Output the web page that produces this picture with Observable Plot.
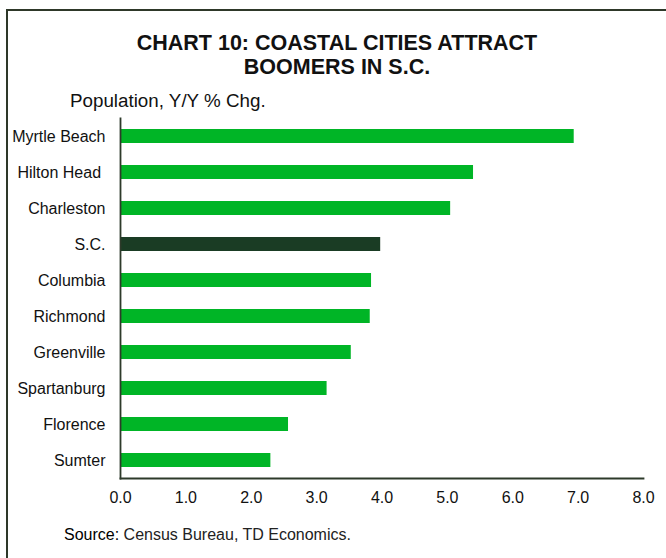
<!DOCTYPE html>
<html>
<head>
<meta charset="utf-8">
<script src="https://cdn.jsdelivr.net/npm/d3@7"></script>
<script src="https://cdn.jsdelivr.net/npm/@observablehq/plot@0.6"></script>
<style>
  html, body { margin: 0; padding: 0; background: #fff; }
  body { font-family: "Liberation Sans", Arial, sans-serif; }
  #wrap { position: relative; width: 666px; height: 558px; overflow: hidden; background: #fff; }
  #frame { position: absolute; left: 6px; top: 9px; width: 700px; height: 600px; border: 2px solid #2e3829; box-sizing: border-box; pointer-events: none; }
  #title { position: absolute; left: 0; width: 674px; top: 31px; text-align: center; font-weight: bold; font-size: 21.5px; line-height: 24px; color: #111; }
  #subtitle { position: absolute; left: 70px; top: 90px; font-size: 18.8px; line-height: 22px; color: #111; }
  #source { position: absolute; left: 64px; top: 526px; font-size: 16px; line-height: 18px; color: #222; }
  #source b { font-weight: normal; color: #000; }
  #chart { position: absolute; left: 0; top: 0; }
</style>
</head>
<body>
<div id="wrap">
  <div id="chart"></div>
  <div id="frame"></div>
  <div id="title">CHART 10: COASTAL CITIES ATTRACT<br>BOOMERS IN S.C.</div>
  <div id="subtitle">Population, Y/Y % Chg.</div>
  <div id="source"><b>Source:</b> Census Bureau, TD Economics.</div>
</div>
<script>
const cities = ["Myrtle Beach", "Hilton Head", "Charleston", "S.C.", "Columbia", "Richmond", "Greenville", "Spartanburg", "Florence", "Sumter"];
const values = [6.94, 5.40, 5.05, 3.98, 3.84, 3.82, 3.53, 3.16, 2.57, 2.30];
const highlight = "S.C.";
const xTicks = [0, 1, 2, 3, 4, 5, 6, 7, 8];

const data = cities.map((c, i) => ({ city: c, value: values[i] }));
const green = "#00b526";
const dark = "#1a3c24";
const axisColor = "#2d3a2a";

const chart = Plot.plot({
  width: 666,
  height: 558,
  marginLeft: 120,
  marginRight: 23,
  marginTop: 118,
  marginBottom: 80,
  style: { fontFamily: "Liberation Sans, Arial, sans-serif", fontSize: "16px", color: "#111", background: "transparent" },
  x: { domain: [0, 8], ticks: xTicks, tickFormat: d => d.toFixed(1), tickSize: 0, tickPadding: 13, label: null },
  y: { domain: cities, paddingInner: 0.6, paddingOuter: 0.3, tickSize: 0, tickPadding: 15, label: null,
       tickFormat: d => d === "Hilton Head" ? "Hilton Head\u00a0" : d },
  color: { type: "identity" },
  marks: [
    Plot.barX(data, { x: "value", y: "city", fill: d => d.city === highlight ? dark : green }),
    Plot.frame({ anchor: "bottom", stroke: axisColor, strokeWidth: 1.8 }),
    Plot.frame({ anchor: "left", stroke: axisColor, strokeWidth: 1.8 })
  ]
});
document.getElementById("chart").appendChild(chart);
</script>
</body>
</html>
